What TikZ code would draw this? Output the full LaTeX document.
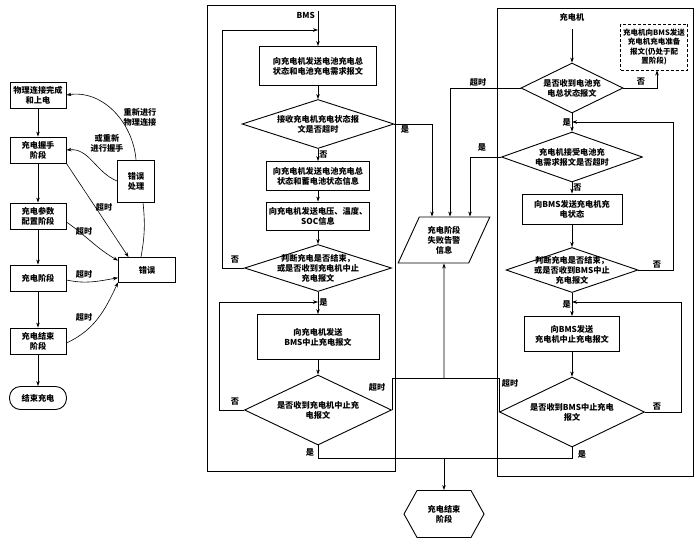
\documentclass[tikz,border=0pt]{standalone}
\usepackage{fontspec}
\setmainfont{Noto Sans CJK SC}
\usetikzlibrary{arrows.meta,shapes.geometric,shapes.symbols}

\tikzset{
	box/.style={draw,line width=0.9pt,align=center,inner sep=1pt},
	lbox/.style={box,minimum width=56,minimum height=26},
	dia/.style={draw,diamond,line width=0.9pt,inner sep=0pt},
	para/.style={draw,trapezium,trapezium left angle=63.4,trapezium right angle=116.6,trapezium stretches=true,line width=0.9pt,align=center,inner sep=0pt,minimum width=92,minimum height=46},
	hexa/.style={draw,signal,signal to=east and west,signal pointer angle=122,line width=0.9pt,align=center,inner sep=0pt,minimum width=80,minimum height=47},
	lbl/.style={inner sep=1pt,align=center},
	line/.style={line width=0.6pt},
	arr/.style={line width=0.6pt,-{Stealth[length=5pt,width=3.5pt]}},
}

\begin{document}
\begin{tikzpicture}[x=1pt,y=1pt,font=\fontsize{8.2}{10}\selectfont\bfseries]
			\useasboundingbox (0,0) rectangle (700,-539);
			% stages
			\node[lbox] (phys) at (38,-95) {物理连接完成\\和上电};
			\node[lbox] (hand) at (38,-150) {充电握手\\阶段};
			\node[lbox] (param) at (38,-216) {充电参数\\配置阶段};
			\node[lbox] (chg) at (38,-278) {充电阶段};
			\node[lbox] (fin) at (38,-341) {充电结束\\阶段};
			\node[box,rounded corners=11pt,minimum width=57,minimum height=23] (stop) at (38,-398) {结束充电};
			\node[box,minimum width=37,minimum height=42] (errh) at (136,-181) {错误\\处理};
			\node[box,minimum width=57,minimum height=25] (err) at (147,-270) {错误};
			\draw[arr] (phys) -- (hand);
			\draw[arr] (hand) -- (param);
			\draw[arr] (param) -- (chg);
			\draw[arr] (chg) -- (fin);
			\draw[arr] (fin) -- (stop);
			\draw[arr] (errh.north) to[out=95,in=8] (phys.east);
			\draw[arr] (errh.west) to[out=158,in=5] (hand.east);
			\draw[line] ([xshift=-6pt]err.north) to[bend right=8] ([xshift=7pt]errh.south);
			\draw[arr] (hand.south east) -- (err.145);
			\draw[arr] ([yshift=-6pt]param.east) to[out=-35,in=150] (err.162);
			\draw[arr] ([yshift=-2pt]chg.east) to[out=-12,in=190] (err.195);
			\draw[arr] ([yshift=-2pt]fin.east) to[out=25,in=245] (err.203);
			\node[lbl] (lreconn) at (140,-117) {重新进行\\物理连接};
			\node[lbl] (lrehand) at (107,-143) {或重新\\进行握手};
			\node[lbl] (lto1) at (104,-207) {超时};
			\node[lbl] (lto2) at (84,-231) {超时};
			\node[lbl] (lto3) at (84,-274) {超时};
			\node[lbl] (lto4) at (84,-317) {超时};
			% BMS
			\draw[line] (207,-5) rectangle (395,-471);
			\node[lbl,anchor=east] (bms) at (316,-15) {BMS};
			\node[box,minimum width=117,minimum height=39] (b1) at (318,-66) {向充电机发送电池充电总\\状态和电池充电需求报文};
			\coordinate (j1) at (318,-30);
			\draw[arr] (b1.north |- bms.north) -- (b1.north);
			\node[dia,minimum width=152,minimum height=49,label={[align=center]center:接收充电机充电状态报\\文是否超时}] (d1) at (318,-124) {};
			\draw[arr] (b1) -- (d1);
			\node[box,minimum width=103,minimum height=29] (b2) at (318,-176) {向充电机发送电池充电总\\状态和蓄电池状态信息};
			\draw[arr] (d1) -- (b2) node[lbl,midway,right] (lno1) {否};
			\node[box,minimum width=103,minimum height=28] (b3) at (318,-216) {向充电机发送电压、温度、\\SOC信息};
			\draw[arr] (b2) -- (b3);
			\node[dia,minimum width=147,minimum height=47,label={[align=center]center:判断充电是否结束，\\或是否收到充电机中止\\充电报文}] (d2) at (318,-268) {};
			\draw[arr] (b3) -- (d2);
			\draw[arr] (d2.west) -- ++(-22,0) |- (j1);
			\node[lbl] (lno2) at (235,-260) {否};
			\node[box,minimum width=122,minimum height=45] (b4) at (318,-337) {向充电机发送\\BMS中止充电报文};
			\coordinate (j2) at (318,-302);
			\draw[arr] (d2) -- (b4) node[lbl,midway,right] (lyes2) {是};
			\node[dia,minimum width=147,minimum height=70,label={[align=center]center:是否收到充电机中止充\\电报文}] (d3) at (318,-410) {};
			\draw[arr] (b4) -- (d3);
			\draw[arr] (d3.west) -- ++(-25,0) |- (j2);
			\node[lbl] (lno3) at (235,-402) {否};
			% charger
			\draw[line] (497,-8) rectangle (693,-476);
			\node[lbl] (chgr) at (572,-17) {充电机};
			\node[dia,minimum width=102,minimum height=50,label={[align=center]center:是否收到电池充\\电总状态报文}] (dA) at (572,-88) {};
			\draw[arr] ([yshift=-7pt]chgr.south) -- (dA);
			\node[box,dashed,dash pattern=on 3pt off 2pt,minimum width=67,minimum height=46,font=\fontsize{7.5}{9.5}\selectfont\bfseries] (prep) at (654,-47) {充电机向BMS发送\\充电机充电准备\\报文(仍处于配\\置阶段)};
			\draw[arr] (dA.east) -| ([xshift=3pt]prep.south);
			\node[lbl] (lno4) at (641,-82) {否};
			\coordinate (rj1) at (572,-122);
			\node[dia,minimum width=141,minimum height=50,label={[align=center]center:充电机接受电池充\\电需求报文是否超时}] (dB) at (572,-157) {};
			\draw[arr] (dA) -- (dB) node[lbl,midway,left] (lyes4) {是};
			\node[box,minimum width=100,minimum height=30] (bC) at (572,-209) {向BMS发送充电机充\\电状态};
			\draw[arr] (dB) -- (bC) node[lbl,midway,right] (lno5) {否};
			\node[dia,minimum width=132,minimum height=45,label={[align=center]center:判断充电是否结束，\\或是否收到BMS中止\\充电报文}] (dC) at (572,-270) {};
			\draw[arr] (bC) -- (dC);
			\draw[arr] (dC.east) -- ++(35,0) |- (rj1);
			\node[lbl] (lno6) at (657,-265) {否};
			\node[box,minimum width=95,minimum height=35] (bD) at (572,-334) {向BMS发送\\充电机中止充电报文};
			\coordinate (rj2) at (572,-302);
			\draw[arr] (dC) -- (bD) node[lbl,midway,left] (lyes5) {是};
			\node[dia,minimum width=145,minimum height=70,label={[align=center]center:是否收到BMS中止充电\\报文}] (dD) at (572,-412) {};
			\draw[arr] (bD) -- (dD);
			\draw[arr] (dD.east) -- ++(36,0) |- (rj2);
			\node[lbl] (lno7) at (657,-407) {否};
			% alarm and end
			\node[para] (alarm) at (444,-240) {充电阶段\\失败告警\\信息};
			\draw[arr] (d1.east) -| ([xshift=-12pt]alarm.north);
			\node[lbl] (lyes1) at (405,-130) {是};
			\draw[arr] (dA.west) -| ([xshift=6pt]alarm.north);
			\node[lbl] (lto7) at (478,-82) {超时};
			\draw[arr] (dB.west) -| ([xshift=26pt]alarm.north);
			\node[lbl] (lyes3) at (482,-148) {是};
			\coordinate (tj) at (444,-378);
			\draw[line] (d3.east) |- (tj);
			\draw[line] (dD.west) |- (tj);
			\draw[arr] (tj) -- (alarm.south);
			\node[lbl] (lto5) at (377,-387) {超时};
			\node[lbl] (lto6) at (510,-383) {超时};
			\node[hexa] (endst) at (444,-514) {充电结束\\阶段};
			\coordinate (ej) at (444,-458);
			\draw[line] (d3.south) |- (ej);
			\draw[line] (dD.south) |- (ej);
			\draw[arr] (ej) -- (endst.north);
			\node[lbl] (lyes6) at (310,-453) {是};
			\node[lbl] (lyes7) at (582,-455) {是};
		\end{tikzpicture}
\end{document}
